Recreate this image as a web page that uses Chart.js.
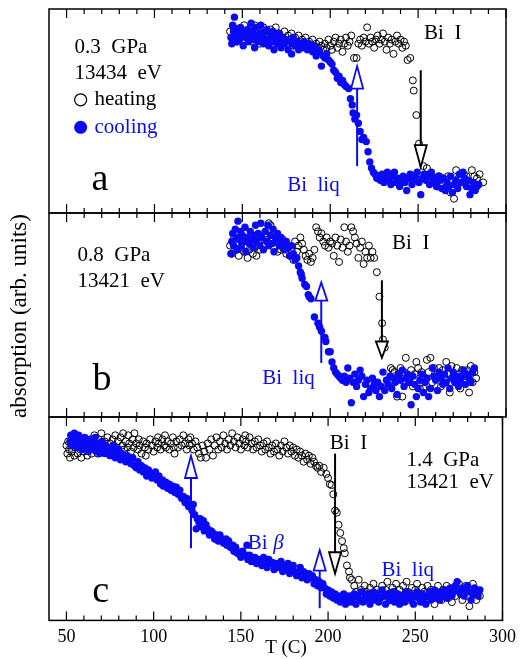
<!DOCTYPE html>
<html>
<head>
<meta charset="utf-8">
<script src="https://cdn.jsdelivr.net/npm/chart.js@4.4.1/dist/chart.umd.min.js"></script>
<style>
  body { margin: 0; background: #fff; }
  #wrap { position: relative; width: 522px; height: 659px; background: #fff; }
  #wrap canvas { position: absolute; left: 0; top: 0; }
</style>
</head>
<body>
<div id="wrap">
  <canvas id="panelA" width="522" height="659"></canvas>
  <canvas id="panelB" width="522" height="659"></canvas>
  <canvas id="panelC" width="522" height="659"></canvas>
</div>
<script>
// temperature ticks (C)
var tempTicks = [50, 100, 150, 200, 250, 300];

// panel a : 0.3 GPa, [T, absorption]
var heatA = [[143,0.89],[144,0.86],[145,0.91],[146,0.88],[147,0.84],[148,0.90],[149,0.87],[150,0.85],[151,0.92],[152,0.88],
  [153,0.86],[154,0.90],[155,0.84],[156,0.88],[157,0.92],[158,0.86],[159,0.89],[160,0.83],[161,0.87],[162,0.91],
  [163,0.85],[164,0.88],[165,0.86],[166,0.90],[167,0.84],[168,0.87],[169,0.91],[170,0.85],[171,0.88],[172,0.84],
  [173,0.86],[174,0.89],[175,0.83],[176,0.87],[177,0.85],[178,0.88],[179,0.82],[180,0.86],[181,0.84],[182,0.87],
  [183,0.82],[184,0.85],[185,0.83],[186,0.86],[187,0.81],[188,0.84],[189,0.82],[190,0.85],[191,0.80],[192,0.83],
  [193,0.81],[194,0.84],[195,0.82],[196,0.80],[197,0.83],[198,0.81],[199,0.85],[200,0.82],[201,0.80],[202,0.84],
  [203,0.86],[204,0.81],[205,0.83],[206,0.85],[207,0.79],[208,0.83],[209,0.86],[210,0.82],[211,0.84],[212,0.87],
  [213.5,0.76],[215,0.76],[216,0.83],[217,0.85],[218,0.82],[219,0.86],[220,0.84],[221,0.91],[222,0.83],[223,0.86],
  [224,0.84],[225,0.81],[226,0.85],[227,0.87],[228,0.83],[229,0.85],[230,0.88],[231,0.84],[232,0.80],[233,0.86],
  [234,0.83],[235,0.85],[236,0.78],[237,0.84],[238,0.87],[239,0.83],[240,0.85],[241,0.81],[242,0.84],[243,0.82],
  [244,0.75],[245.5,0.76],[247,0.65],[247.5,0.60],[249,0.48],[250.5,0.34],[251.5,0.31],[253,0.23],[255,0.22],[257,0.19],
  [259,0.17],[260.8,0.13],[262,0.18],[264,0.17],[265.9,0.15],[267,0.18],[268.5,0.10],[270.4,0.07],[271.6,0.21],[273,0.17],
  [275,0.15],[276,0.19],[277.5,0.18],[279,0.15],[280.6,0.21],[282,0.18],[283.5,0.17],[285,0.19],[287,0.15]];
var coolA = [[143.5,0.86],[144,0.83],[144.5,0.92],[145,0.89],[145.5,0.96],[146,0.87],[146.5,0.84],[147,0.90],[148,0.88],[148.5,0.85],
  [149,0.91],[150,0.87],[150.5,0.82],[151,0.89],[152,0.86],[153,0.90],[153.5,0.84],[154,0.88],[155,0.93],[155.5,0.85],
  [156,0.89],[157,0.81],[157.5,0.87],[158,0.91],[159,0.84],[160,0.88],[160.5,0.92],[161,0.86],[162,0.83],[163,0.89],
  [163.5,0.85],[164,0.90],[165,0.82],[166,0.87],[167,0.84],[167.5,0.89],[168,0.80],[169,0.86],[170,0.83],[171,0.88],
  [171.5,0.84],[172,0.81],[173,0.86],[174,0.83],[175,0.85],[176,0.80],[177,0.84],[178,0.78],[178.5,0.83],[179,0.86],
  [180,0.82],[181,0.84],[182,0.80],[183,0.83],[184,0.81],[185,0.84],[186,0.82],[187,0.80],[188,0.83],[189,0.81],
  [190,0.79],[191,0.82],[192,0.77],[193,0.80],[194,0.79],[195,0.72],[196,0.77],[197,0.76],[198,0.78],[199,0.75],
  [200,0.74],[201,0.73],[202,0.70],[203,0.69],[204,0.66],[205,0.67],[206,0.64],[207,0.65],[208,0.63],[209,0.62],
  [210.5,0.61],[211.5,0.56],[212.5,0.53],[213,0.49],[214,0.46],[215,0.48],[216,0.44],[217,0.40],[218,0.36],[219,0.37],
  [220.5,0.35],[221.5,0.30],[222.5,0.25],[223.5,0.22],[224.5,0.20],[225.5,0.19],[226.5,0.17],[227.5,0.18],[228.5,0.16],[229.5,0.19],
  [230.5,0.15],[231.5,0.17],[232.5,0.20],[233.5,0.16],[234.5,0.14],[235.5,0.18],[236.5,0.20],[237.5,0.15],[238.5,0.17],[239.5,0.13],
  [240.5,0.16],[241.5,0.18],[242.5,0.15],[243.5,0.11],[244.5,0.17],[245.5,0.19],[246.5,0.14],[247.5,0.16],[248.5,0.18],[249.5,0.20],
  [250.5,0.15],[251.5,0.09],[252.5,0.17],[253.5,0.19],[254.5,0.16],[255.5,0.18],[256.5,0.14],[257.5,0.20],[258.5,0.17],[259.5,0.15],
  [260.5,0.13],[261.5,0.18],[262.5,0.16],[263.5,0.12],[264.5,0.17],[265.5,0.11],[266.5,0.15],[267.5,0.13],[268.5,0.18],[269.5,0.10],
  [270.5,0.14],[271.5,0.16],[272.5,0.12],[273.5,0.19],[274.5,0.15],[275.5,0.20],[276.5,0.17],[277.5,0.13],[278.5,0.16],[279.5,0.09],
  [280.5,0.12],[281.5,0.15],[282.5,0.11],[283.5,0.13],[284.5,0.14]];

// panel b : 0.8 GPa
var heatB = [[143,0.84],[144,0.80],[145,0.87],[146,0.82],[147,0.85],[148,0.79],[149,0.83],[150,0.86],[151,0.81],[152,0.84],
  [153,0.78],[154,0.82],[155,0.85],[156,0.80],[157,0.83],[158,0.79],[159,0.86],[160,0.82],[161,0.88],[162,0.84],
  [163,0.90],[164,0.86],[165,0.95],[166,0.94],[167,0.88],[168,0.83],[169,0.86],[170,0.81],[171,0.85],[172,0.82],
  [173,0.87],[174,0.84],[175,0.80],[176,0.83],[177,0.79],[178,0.82],[179,0.77],[180,0.86],[181,0.81],[182,0.84],
  [183,0.88],[184,0.85],[185,0.82],[186,0.79],[187,0.77],[188,0.80],[189,0.76],[190,0.78],[191,0.82],[192,0.93],
  [193,0.91],[194,0.88],[195,0.90],[196,0.86],[197,0.84],[198,0.88],[199,0.83],[200,0.86],[201,0.85],[202,0.79],
  [203,0.88],[204,0.84],[205,0.76],[206,0.87],[207,0.83],[208,0.93],[209,0.86],[210,0.81],[211,0.84],[212,0.93],
  [213,0.91],[214,0.88],[215,0.85],[216,0.78],[217,0.83],[218,0.86],[219,0.75],[220,0.81],[221,0.78],[222,0.84],
  [223,0.78],[224,0.81],[225,0.78],[226.5,0.71],[228,0.59],[229.5,0.46],[230,0.38],[231,0.34],[234.5,0.24],[235.5,0.23],
  [236.5,0.22],[237,0.19],[238,0.10],[239,0.21],[240,0.24],[241,0.10],[242,0.22],[243,0.29],[244,0.19],[245,0.17],
  [246,0.23],[247,0.15],[248,0.21],[249,0.27],[250,0.24],[251,0.14],[252,0.22],[253,0.14],[254,0.19],[255,0.28],
  [256,0.22],[257,0.29],[258,0.17],[259,0.24],[260,0.19],[261,0.21],[262,0.24],[263,0.15],[264,0.23],[265,0.19],
  [266,0.27],[267,0.21],[268,0.12],[269,0.25],[270,0.20],[271,0.17],[272,0.24],[273,0.21],[274,0.14],[275,0.23],
  [276,0.18],[277,0.20],[278,0.23],[279,0.12],[280,0.25],[281,0.17],[282,0.22],[283,0.19]];
var coolB = [[143.5,0.80],[144,0.86],[144.5,0.90],[145,0.84],[146,0.92],[146.5,0.88],[147,0.82],[147.5,0.96],[148,0.87],[149,0.91],
  [149.5,0.84],[150,0.89],[151,0.86],[151.5,0.93],[152,0.81],[153,0.88],[154,0.85],[154.5,0.91],[155,0.87],[156,0.83],
  [157,0.89],[157.5,0.94],[158,0.86],[159,0.90],[160,0.84],[160.5,0.95],[161,0.88],[162,0.82],[163,0.91],[164,0.86],
  [164.5,0.94],[165,0.84],[166,0.89],[167,0.85],[167.5,0.92],[168,0.81],[169,0.87],[170,0.90],[171,0.84],[172,0.88],
  [173,0.85],[174,0.82],[175,0.86],[176,0.83],[177,0.79],[178,0.84],[179,0.80],[180,0.77],[181,0.78],[182,0.74],
  [183,0.71],[183.5,0.70],[184,0.68],[185.5,0.65],[186.5,0.64],[187.5,0.60],[188,0.59],[189,0.58],[191,0.49],[193,0.46],
  [194,0.44],[195,0.42],[197,0.39],[197.5,0.37],[199,0.32],[200,0.32],[201,0.27],[202,0.24],[203,0.22],[204,0.21],
  [205,0.20],[206,0.19],[207,0.18],[208,0.20],[209,0.17],[210,0.24],[211,0.19],[212,0.07],[213,0.17],[214,0.21],
  [215,0.15],[216,0.18],[217,0.23],[218,0.20],[219,0.10],[220,0.16],[221,0.18],[222,0.12],[223,0.14],[224,0.19],
  [225,0.16],[226,0.13],[227,0.17],[228,0.10],[229,0.15],[230,0.22],[231,0.13],[232,0.18],[233,0.16],[234,0.20],
  [235,0.14],[236,0.19],[237,0.17],[238,0.11],[239,0.21],[240,0.18],[241,0.23],[242,0.15],[243,0.19],[244,0.21],
  [245,0.17],[246,0.06],[247,0.20],[248,0.16],[249,0.10],[250,0.14],[251,0.18],[252,0.21],[253,0.12],[254,0.17],
  [255,0.19],[256,0.10],[257,0.14],[258,0.24],[259,0.20],[260,0.18],[261,0.13],[262,0.22],[263,0.19],[264,0.16],
  [265,0.21],[266,0.17],[267,0.24],[268,0.14],[269,0.19],[270,0.22],[271,0.17],[272,0.20],[273,0.15],[274,0.18],
  [275,0.20],[276,0.23],[277,0.16],[278,0.21],[279,0.19],[280,0.17],[281,0.22],[282,0.24]];

// panel c : 1.4 GPa
var heatC = [[50,0.86],[50.5,0.82],[51,0.88],[51.5,0.84],[52,0.80],[52.5,0.86],[53,0.83],[54,0.89],[54.5,0.81],[55,0.85],
  [56,0.87],[56.5,0.82],[57,0.90],[58,0.84],[58.5,0.80],[59,0.86],[60,0.83],[60.5,0.88],[61,0.85],[62,0.81],
  [62.5,0.87],[63,0.84],[64,0.89],[64.5,0.82],[65,0.86],[66,0.91],[66.5,0.84],[67,0.87],[68,0.82],[68.5,0.89],
  [69,0.85],[70,0.92],[70.5,0.86],[71,0.83],[72,0.88],[73,0.85],[73.5,0.90],[74,0.82],[75,0.87],[76,0.84],
  [76.5,0.89],[77,0.86],[78,0.91],[79,0.85],[79.5,0.88],[80,0.83],[81,0.90],[82,0.86],[82.5,0.92],[83,0.84],
  [84,0.88],[85,0.85],[85.5,0.91],[86,0.87],[87,0.83],[88,0.89],[88.5,0.85],[89,0.92],[90,0.87],[91,0.84],
  [91.5,0.89],[92,0.86],[93,0.82],[94,0.88],[95,0.85],[95.5,0.81],[96,0.87],[97,0.84],[98,0.89],[99,0.86],
  [100,0.83],[101,0.88],[102,0.85],[102.5,0.90],[103,0.87],[104,0.84],[105,0.89],[106,0.86],[106.5,0.91],[107,0.85],
  [108,0.88],[109,0.84],[110,0.87],[111,0.90],[111.5,0.85],[112,0.82],[113,0.88],[114,0.85],[115,0.89],[116,0.86],
  [117,0.91],[118,0.87],[119,0.84],[120,0.89],[120.5,0.86],[121,0.90],[122,0.87],[123,0.84],[124,0.88],[125,0.85],
  [126,0.82],[127,0.80],[128,0.86],[129,0.83],[130,0.80],[131,0.87],[132,0.84],[133,0.89],[134,0.81],[135,0.86],
  [136,0.90],[137,0.84],[138,0.88],[139,0.85],[140,0.91],[141,0.87],[142,0.84],[143,0.89],[144,0.86],[145,0.92],
  [146,0.88],[147,0.85],[148,0.90],[149,0.87],[150,0.84],[151,0.89],[152,0.86],[152.5,0.91],[153,0.88],[154,0.85],
  [155,0.90],[156,0.87],[157,0.84],[158,0.88],[159,0.85],[160,0.89],[161,0.86],[162,0.83],[163,0.87],[164,0.84],
  [165,0.88],[166,0.85],[167,0.82],[168,0.86],[169,0.83],[170,0.87],[171,0.84],[172,0.81],[173,0.86],[174,0.83],
  [175,0.88],[176,0.85],[177,0.82],[178,0.86],[179,0.83],[180,0.85],[181,0.81],[182,0.84],[183,0.80],[184,0.83],
  [185,0.81],[186,0.78],[187,0.82],[188,0.79],[189,0.81],[190,0.77],[191,0.80],[192,0.78],[193,0.76],[194,0.75],
  [195,0.76],[196,0.73],[197.5,0.75],[199,0.72],[200,0.70],[201,0.67],[202,0.665],[203,0.62],[204,0.54],[205,0.53],
  [206,0.47],[207,0.43],[208,0.39],[209,0.355],[209.6,0.33],[210.8,0.27],[212,0.24],[212.5,0.21],[213.6,0.20],[215,0.17],
  [216,0.14],[217.6,0.20],[219,0.15],[220,0.12],[221,0.17],[222,0.14],[223,0.11],[224,0.16],[225,0.13],[226,0.18],
  [227,0.12],[228,0.15],[229,0.10],[230,0.14],[231,0.17],[232,0.12],[233,0.15],[234,0.19],[235,0.13],[236,0.10],
  [237,0.16],[238,0.14],[239,0.18],[240,0.12],[241,0.15],[242,0.11],[243,0.17],[244,0.13],[245,0.19],[246,0.14],
  [247,0.10],[248,0.16],[249,0.12],[250,0.15],[251,0.18],[252,0.13],[253,0.10],[254,0.16],[255,0.14],[256,0.09],
  [257,0.17],[258,0.12],[259,0.15],[260,0.11],[261,0.08],[262,0.14],[263,0.17],[264,0.12],[265,0.10],[266,0.15],
  [267,0.13],[268,0.17],[269,0.11],[270,0.14],[271,0.09],[272,0.16],[273,0.12],[274,0.15],[275,0.18],[276,0.13],
  [277,0.10],[278,0.14],[279,0.17],[280,0.12],[281,0.07],[282,0.15],[283,0.18],[284,0.13],[285,0.10],[286,0.14],[287,0.12]];
var coolC = [[52,0.88],[52.5,0.91],[53,0.86],[54,0.89],[54.5,0.92],[55,0.87],[55.5,0.90],[56,0.85],[56.5,0.88],[57,0.91],
  [58,0.86],[58.5,0.89],[59,0.84],[60,0.88],[60.5,0.90],[61,0.85],[62,0.87],[62.5,0.83],[63,0.89],[64,0.86],
  [64.5,0.84],[65,0.88],[66,0.85],[66.5,0.90],[67,0.83],[68,0.87],[68.5,0.85],[69,0.82],[70,0.86],[70.5,0.88],
  [71,0.84],[72,0.82],[72.5,0.86],[73,0.83],[74,0.85],[75,0.81],[75.5,0.84],[76,0.82],[77,0.86],[78,0.80],
  [78.5,0.83],[79,0.81],[80,0.84],[81,0.79],[82,0.82],[83,0.80],[84,0.78],[85,0.81],[86,0.79],[87,0.77],
  [88,0.80],[89,0.76],[90,0.75],[91,0.78],[92,0.74],[93,0.76],[94,0.73],[95,0.75],[96,0.71],[97,0.74],
  [98,0.72],[99,0.70],[100,0.71],[101,0.73],[102,0.69],[103,0.71],[104,0.67],[105,0.69],[105.7,0.66],[107,0.68],
  [108,0.65],[109,0.67],[110,0.64],[111,0.66],[112,0.63],[113,0.655],[114,0.62],[115,0.64],[116,0.60],[117,0.61],
  [118,0.58],[119,0.60],[120,0.56],[121,0.57],[122,0.54],[122.7,0.57],[123.5,0.52],[124.4,0.45],[125,0.50],[126,0.48],
  [126.7,0.50],[127.5,0.46],[128.5,0.49],[129,0.44],[130,0.47],[131,0.45],[132,0.42],[133,0.44],[134,0.43],[135,0.40],
  [136,0.42],[137,0.39],[138,0.42],[139,0.40],[140,0.38],[141.5,0.40],[142,0.37],[143,0.39],[144,0.36],[145.4,0.37],
  [146,0.34],[147,0.36],[148,0.33],[149.4,0.335],[150,0.31],[151,0.34],[152,0.32],[152.8,0.32],[153.5,0.37],[154,0.30],
  [155,0.32],[156,0.29],[156.8,0.305],[158,0.31],[159,0.28],[160,0.30],[160.8,0.295],[162,0.27],[163,0.31],[164,0.29],
  [165,0.26],[166,0.30],[167,0.28],[168,0.285],[169,0.25],[170,0.28],[171,0.26],[172,0.27],[173,0.29],[174,0.24],
  [175,0.27],[176,0.25],[177,0.28],[178,0.23],[179.5,0.255],[180,0.27],[181,0.24],[182,0.22],[183.5,0.236],[184,0.26],
  [185,0.21],[186,0.24],[187,0.22],[188,0.20],[189,0.23],[190,0.21],[191,0.22],[192,0.18],[193,0.20],[194,0.17],
  [195,0.19],[196,0.16],[197,0.18],[198,0.16],[199,0.13],[200,0.15],[201,0.12],[202,0.14],[203,0.11],[204,0.13],
  [205,0.10],[206,0.12],[207,0.09],[208,0.11],[209,0.13],[210,0.08],[211,0.10],[212,0.12],[213,0.09],[214,0.11],
  [215,0.13],[216,0.08],[217,0.12],[218,0.10],[219,0.14],[220,0.09],[221,0.11],[222,0.13],[223,0.10],[224,0.08],
  [225,0.12],[226,0.14],[227,0.10],[228,0.13],[229,0.09],[230,0.11],[231,0.15],[232,0.12],[233,0.08],[234,0.13],
  [235,0.10],[236,0.12],[237,0.14],[238,0.09],[239,0.11],[240,0.13],[241,0.08],[242,0.10],[243,0.12],[244,0.09],
  [245,0.14],[246,0.11],[247,0.13],[248,0.10],[249,0.08],[250,0.12],[251,0.14],[252,0.11],[253,0.09],[254,0.13],
  [255,0.11],[256,0.08],[257,0.12],[258,0.14],[259,0.10],[260,0.12],[261,0.15],[262,0.11],[263,0.13],[264,0.10],
  [265,0.14],[266,0.12],[267,0.15],[268,0.11],[269,0.13],[270,0.16],[271,0.12],[272,0.14],[273,0.17],[274,0.19],
  [275,0.15],[276,0.13],[277,0.16],[278,0.12],[279,0.15],[280,0.17],[281,0.14],[282,0.10],[283,0.13],[284,0.16],
  [285,0.14],[286,0.12],[287,0.15]];

var BLUE = 'rgb(10,10,245)';
var FONT = '"Liberation Serif", "DejaVu Serif", serif';

function pts(arr) {
  return arr.map(function (p) { return { x: p[0], y: p[1] }; });
}

// arrows: T, start, tip, head base (in panel units)
var panels = [
  {
    id: 'panelA', top: 9, bottom: 446, heat: heatA, cool: coolA,
    notes: [
      { text: '0.3  GPa', x: 54.5, y: 0.81 },
      { text: '13434  eV', x: 54.5, y: 0.685 },
      { text: 'heating', x: 65.9, y: 0.555 },
      { text: 'cooling', x: 65.9, y: 0.42, color: BLUE },
      { text: 'a', x: 64.2, y: 0.16, size: 38 },
      { text: 'Bi  liq', x: 175.5, y: 0.137, color: BLUE },
      { text: 'Bi  I', x: 253.4, y: 0.882 }
    ],
    legend: true,
    arrows: [
      { t: 215.3, from: 0.23, tip: 0.72, base: 0.61, color: BLUE },
      { t: 251.5, from: 0.70, tip: 0.225, base: 0.333, color: '#000' }
    ]
  },
  {
    id: 'panelB', top: 213, bottom: 242, heat: heatB, cool: coolB,
    notes: [
      { text: '0.8  GPa', x: 56.2, y: 0.794 },
      { text: '13421  eV', x: 56.2, y: 0.662 },
      { text: 'b', x: 64.8, y: 0.18, size: 38 },
      { text: 'Bi  liq', x: 161.3, y: 0.19, color: BLUE },
      { text: 'Bi  I', x: 235.2, y: 0.853 }
    ],
    arrows: [
      { t: 194.9, from: 0.265, tip: 0.66, base: 0.57, color: BLUE },
      { t: 229.4, from: 0.67, tip: 0.29, base: 0.37, color: '#000' }
    ]
  },
  {
    id: 'panelC', top: 417, bottom: 5, heat: heatC, cool: coolC, axis: true,
    notes: [
      { text: 'Bi  I', x: 201, y: 0.872 },
      { text: '1.4  GPa', x: 244.9, y: 0.788 },
      { text: '13421  eV', x: 244.9, y: 0.68 },
      { text: 'c', x: 64.8, y: 0.14, size: 38 },
      { text: 'Bi', x: 154, y: 0.38, color: BLUE },
      { text: '\u03b2', x: 168.5, y: 0.38, color: BLUE, italic: true },
      { text: 'Bi  liq', x: 230.6, y: 0.246, color: BLUE }
    ],
    arrows: [
      { t: 121.4, from: 0.355, tip: 0.81, base: 0.70, color: BLUE },
      { t: 195.2, from: 0.06, tip: 0.345, base: 0.245, color: BLUE },
      { t: 204, from: 0.82, tip: 0.23, base: 0.335, color: '#000' }
    ],
    titles: true
  }
];

function drawArrow(ctx, xs, ys, a) {
  var x = xs.getPixelForValue(a.t);
  var y0 = ys.getPixelForValue(a.from);
  var yt = ys.getPixelForValue(a.tip);
  var yb = ys.getPixelForValue(a.base);
  ctx.strokeStyle = a.color;
  ctx.lineWidth = 2;
  ctx.beginPath();
  ctx.moveTo(x, y0);
  ctx.lineTo(x, yb);
  ctx.stroke();
  ctx.beginPath();
  ctx.moveTo(x - 6, yb);
  ctx.lineTo(x + 6, yb);
  ctx.lineTo(x, yt);
  ctx.closePath();
  ctx.fillStyle = '#fff';
  ctx.fill();
  ctx.lineWidth = 1.8;
  ctx.stroke();
}

function makeDecor(panel) {
  return {
    id: 'decor',
    afterDraw: function (chart) {
      var ctx = chart.ctx, area = chart.chartArea;
      var xs = chart.scales.x, ys = chart.scales.y;
      ctx.save();
      // frame
      ctx.strokeStyle = '#000';
      ctx.lineWidth = 1.5;
      ctx.strokeRect(area.left, area.top, area.right - area.left, area.bottom - area.top);
      // inward ticks on top and bottom edges
      ctx.lineWidth = 1.2;
      for (var t = 50; t <= 300; t += 10) {
        var px = xs.getPixelForValue(t);
        var len = (t % 50 === 0) ? 9 : 5;
        ctx.beginPath();
        ctx.moveTo(px, area.top);
        ctx.lineTo(px, area.top + len);
        ctx.moveTo(px, area.bottom);
        ctx.lineTo(px, area.bottom - len);
        ctx.stroke();
      }
      // arrows
      panel.arrows.forEach(function (a) { drawArrow(ctx, xs, ys, a); });
      // texts
      ctx.textBaseline = 'middle';
      ctx.textAlign = 'left';
      panel.notes.forEach(function (n) {
        ctx.fillStyle = n.color || '#000';
        ctx.font = (n.italic ? 'italic ' : '') + (n.size || 21) + 'px ' + FONT;
        ctx.fillText(n.text, xs.getPixelForValue(n.x), ys.getPixelForValue(n.y));
      });
      if (panel.legend) {
        var lx = xs.getPixelForValue(58);
        ctx.beginPath();
        ctx.arc(lx, ys.getPixelForValue(0.555), 6, 0, Math.PI * 2);
        ctx.strokeStyle = '#000';
        ctx.lineWidth = 1.2;
        ctx.stroke();
        ctx.beginPath();
        ctx.arc(lx, ys.getPixelForValue(0.42), 6.5, 0, Math.PI * 2);
        ctx.fillStyle = BLUE;
        ctx.fill();
      }
      if (panel.titles) {
        ctx.fillStyle = '#000';
        ctx.font = '19px ' + FONT;
        ctx.textAlign = 'center';
        ctx.fillText('T (C)', 286, 648);
        ctx.save();
        ctx.translate(20, 316);
        ctx.rotate(-Math.PI / 2);
        ctx.font = '23px ' + FONT;
        ctx.fillText('absorption (arb. units)', 0, 0);
        ctx.restore();
      }
      ctx.restore();
    }
  };
}

panels.forEach(function (panel) {
  var canvas = document.getElementById(panel.id);
  new Chart(canvas, {
    type: 'scatter',
    data: {
      datasets: [
        {
          label: 'cooling',
          data: pts(panel.cool),
          pointRadius: 3.7,
          backgroundColor: BLUE,
          borderColor: BLUE,
          borderWidth: 0
        },
        {
          label: 'heating',
          data: pts(panel.heat),
          pointRadius: 3.5,
          backgroundColor: 'rgba(0,0,0,0)',
          borderColor: '#000',
          borderWidth: 1
        }
      ]
    },
    options: {
      responsive: false,
      animation: false,
      events: [],
      layout: { padding: { left: 49, right: 16, top: panel.top, bottom: panel.bottom } },
      plugins: { legend: { display: false }, tooltip: { enabled: false } },
      scales: {
        x: {
          type: 'linear', min: 40, max: 300,
          display: !!panel.axis,
          grid: { display: false, drawTicks: false },
          border: { display: false },
          afterBuildTicks: function (scale) {
            scale.ticks = tempTicks.map(function (v) { return { value: v }; });
          },
          ticks: { color: '#000', padding: 6, maxRotation: 0, autoSkip: false, font: { family: FONT, size: 18 } }
        },
        y: { min: 0, max: 1, display: false }
      }
    },
    plugins: [makeDecor(panel)]
  });
});
</script>
</body>
</html>
